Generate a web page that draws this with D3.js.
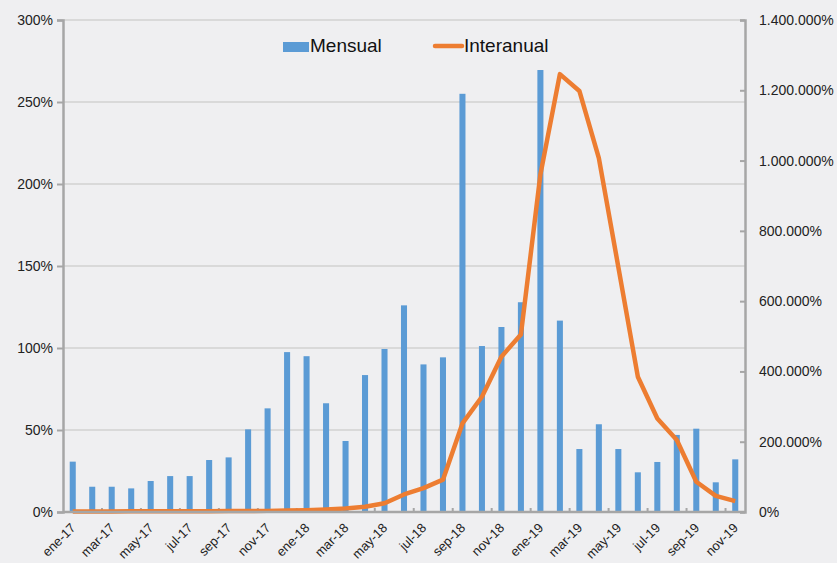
<!DOCTYPE html>
<html>
<head>
<meta charset="utf-8">
<script src="https://cdn.jsdelivr.net/npm/d3@7"></script>
<style>
  html, body { margin: 0; padding: 0; background: #efeff1; }
  svg { display: block; font-family: "Liberation Sans", Arial, sans-serif; }
</style>
</head>
<body>
<script>
// months ene-17 .. nov-19
const months = [
  'ene-17', 'feb-17', 'mar-17', 'abr-17', 'may-17', 'jun-17', 'jul-17', 'ago-17', 'sep-17', 'oct-17', 'nov-17', 'dic-17',
  'ene-18', 'feb-18', 'mar-18', 'abr-18', 'may-18', 'jun-18', 'jul-18', 'ago-18', 'sep-18', 'oct-18', 'nov-18', 'dic-18',
  'ene-19', 'feb-19', 'mar-19', 'abr-19', 'may-19', 'jun-19', 'jul-19', 'ago-19', 'sep-19', 'oct-19', 'nov-19'
];

// monthly variation (%), left axis
const mensual = [
  30.7, 15.4, 15.4, 14.4, 18.9, 21.9, 21.9, 31.7, 33.3, 50.4, 63.2, 97.5,
  95.0, 66.3, 43.3, 83.5, 99.4, 126.0, 90.0, 94.3, 255.0, 101.2, 112.8, 127.9,
  269.5, 116.7, 38.4, 53.5, 38.4, 24.2, 30.5, 47.0, 50.8, 18.1, 32.1
];

// year-on-year variation (%), right axis
const interanual = [
  1500, 1600, 1700, 1800, 1900, 2000, 2100, 2300, 2500, 2800, 3200, 4000,
  5000, 7000, 10000, 15000, 25000, 50000, 68000, 92000, 252000, 328000, 442000, 505000,
  960000, 1246000, 1198000, 1007000, 697000, 385000, 266000, 205000, 86000, 46000, 31000
];

const leftTicks = [0, 50, 100, 150, 200, 250, 300];
const rightTicks = [0, 200000, 400000, 600000, 800000, 1000000, 1200000, 1400000];

const W = 837, H = 563;
const plot = { left: 63, right: 745, top: 20, bottom: 512 };

const svg = d3.select('body').append('svg')
  .attr('width', W)
  .attr('height', H);

const x = d3.scaleBand()
  .domain(months)
  .range([plot.left, plot.right])
  .paddingInner(0.69)
  .paddingOuter(0.345);

const yL = d3.scaleLinear().domain([0, 300]).range([plot.bottom, plot.top]);
const yR = d3.scaleLinear().domain([0, 1400000]).range([plot.bottom, plot.top]);

const esLocale = d3.formatLocale({ decimal: ',', thousands: '.', grouping: [3], currency: ['', ''] });
const fmtR = esLocale.format(',');

// gridlines
svg.append('g')
  .selectAll('line')
  .data(leftTicks.filter(d => d > 0))
  .join('line')
  .attr('x1', plot.left)
  .attr('x2', plot.right)
  .attr('y1', d => yL(d))
  .attr('y2', d => yL(d))
  .attr('stroke', '#d9d9d9')
  .attr('stroke-width', 2);

// bars
svg.append('g')
  .selectAll('rect')
  .data(months)
  .join('rect')
  .attr('x', d => x(d))
  .attr('width', x.bandwidth())
  .attr('y', (d, i) => yL(mensual[i]))
  .attr('height', (d, i) => yL(0) - yL(mensual[i]))
  .attr('fill', '#5b9bd5');

// small x tick marks every two months
const step = x.step();
svg.append('g')
  .selectAll('line')
  .data(months.filter((d, i) => i > 0 && i % 2 === 0))
  .join('line')
  .attr('x1', d => x(d) - x.paddingInner() * step / 2)
  .attr('x2', d => x(d) - x.paddingInner() * step / 2)
  .attr('y1', plot.bottom)
  .attr('y2', plot.bottom - 4)
  .attr('stroke', '#a6a6a6')
  .attr('stroke-width', 2);

// line
const line = d3.line()
  .x((d, i) => x(months[i]) + x.bandwidth() / 2)
  .y(d => yR(d));

svg.append('path')
  .datum(interanual)
  .attr('fill', 'none')
  .attr('stroke', '#ed7d31')
  .attr('stroke-width', 4.5)
  .attr('stroke-linejoin', 'round')
  .attr('d', line);

// left axis
const gL = svg.append('g')
  .attr('transform', `translate(${plot.left},0)`)
  .call(d3.axisLeft(yL).tickValues(leftTicks).tickFormat(d => d + '%').tickSize(6).tickPadding(4));

// right axis
const gR = svg.append('g')
  .attr('transform', `translate(${plot.right},0)`)
  .call(d3.axisRight(yR).tickValues(rightTicks).tickFormat(d => fmtR(d) + '%').tickSize(-5).tickPadding(14));

[gL, gR].forEach(g => {
  g.select('.domain').attr('stroke', '#a6a6a6').attr('stroke-width', 2.5);
  g.selectAll('.tick line').attr('stroke', '#a6a6a6').attr('stroke-width', 2);
  g.selectAll('.tick text').attr('fill', '#222').style('font-size', '14px')
    .style('font-family', '"Liberation Sans", Arial, sans-serif');
});

// x axis line
svg.append('line')
  .attr('x1', plot.left)
  .attr('x2', plot.right)
  .attr('y1', plot.bottom)
  .attr('y2', plot.bottom)
  .attr('stroke', '#a6a6a6')
  .attr('stroke-width', 2.5);

// x labels
svg.append('g')
  .selectAll('text')
  .data(months.filter((d, i) => i % 2 === 0))
  .join('text')
  .attr('transform', d => `translate(${x(d) + x.bandwidth() / 2 + 0.5},${plot.bottom + 13.5}) rotate(-45)`)
  .attr('text-anchor', 'end')
  .attr('dy', '0.35em')
  .style('font-size', '13px')
  .attr('fill', '#222')
  .text(d => d);

// legend
const lg = svg.append('g');
lg.append('rect')
  .attr('x', 283).attr('y', 42).attr('width', 26).attr('height', 10)
  .attr('fill', '#5b9bd5');
lg.append('text')
  .attr('x', 310).attr('y', 52)
  .style('font-size', '19px')
  .attr('fill', '#111')
  .text('Mensual');
lg.append('line')
  .attr('x1', 435).attr('x2', 462).attr('y1', 46).attr('y2', 46)
  .attr('stroke', '#ed7d31').attr('stroke-width', 4.5).attr('stroke-linecap', 'round');
lg.append('text')
  .attr('x', 464).attr('y', 52)
  .style('font-size', '19px')
  .attr('fill', '#111')
  .text('Interanual');
</script>
</body>
</html>
